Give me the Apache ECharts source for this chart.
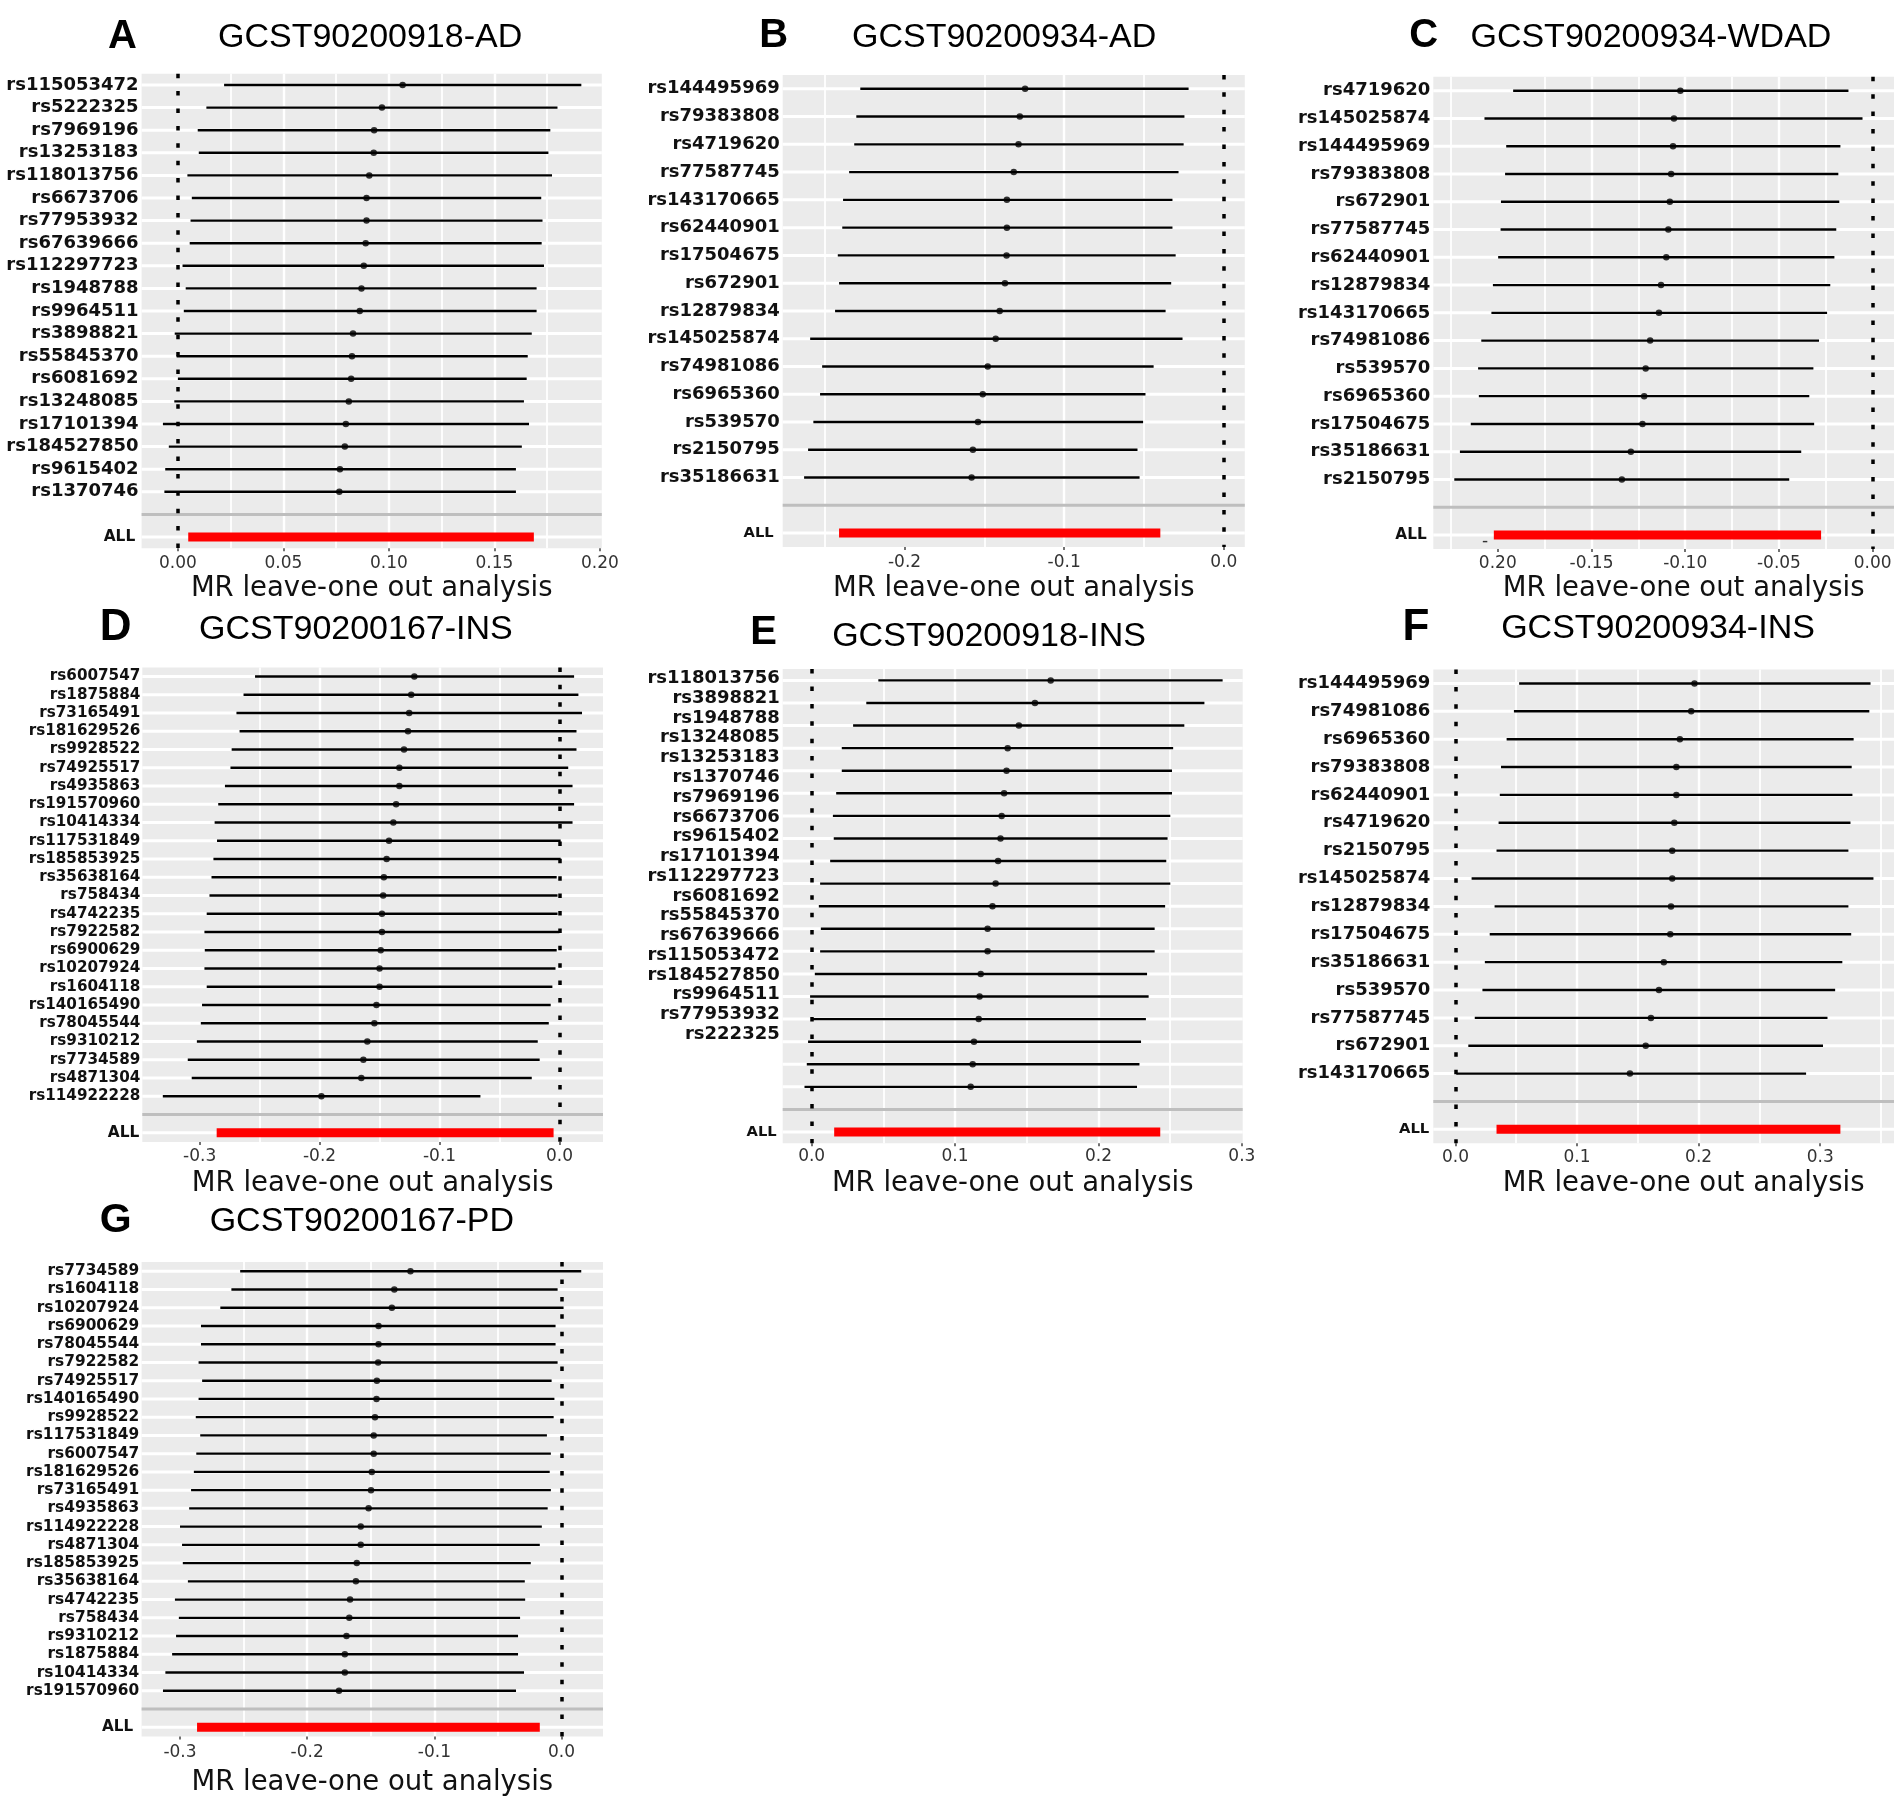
<!DOCTYPE html>
<html>
<head>
<meta charset="utf-8">
<title>MR leave-one out analysis</title>
<script src="https://cdn.jsdelivr.net/npm/echarts@6/dist/echarts.min.js"></script>
<style>
html, body { margin: 0; padding: 0; background: #fff; }
#chart { width: 1902px; height: 1805px; }
</style>
</head>
<body>
<div id="chart"></div>
<script>
// A  GCST90200918-AD
var snpsA = ["rs115053472","rs5222325","rs7969196","rs13253183","rs118013756","rs6673706","rs77953932","rs67639666","rs112297723","rs1948788","rs9964511","rs3898821","rs55845370","rs6081692","rs13248085","rs17101394","rs184527850","rs9615402","rs1370746"];
var estA = [0.1065,0.0967,0.0930,0.0928,0.0907,0.0894,0.0894,0.0890,0.0881,0.0870,0.0862,0.0830,0.0825,0.0821,0.0810,0.0796,0.0791,0.0768,0.0765];
var loA  = [0.0219,0.0135,0.0094,0.0099,0.0045,0.0066,0.0060,0.0056,0.0022,0.0037,0.0028,-0.0015,-0.0006,0.0000,-0.0017,-0.0071,-0.0043,-0.0060,-0.0064];
var hiA  = [0.1912,0.1799,0.1765,0.1756,0.1773,0.1722,0.1728,0.1724,0.1735,0.1700,0.1700,0.1677,0.1658,0.1653,0.1640,0.1664,0.1630,0.1602,0.1602];
var allA = [0.0049,0.0868,0.1687]; // lo, est, hi
var ticksA = [0,0.05,0.1,0.15,0.2];
var tickTextA = ["0.00","0.05","0.10","0.15","0.20"];

// B  GCST90200934-AD
var snpsB = ["rs144495969","rs79383808","rs4719620","rs77587745","rs143170665","rs62440901","rs17504675","rs672901","rs12879834","rs145025874","rs74981086","rs6965360","rs539570","rs2150795","rs35186631"];
var estB = [-0.1245,-0.1278,-0.1286,-0.1316,-0.1359,-0.1359,-0.1361,-0.1371,-0.1404,-0.1429,-0.1479,-0.1510,-0.1540,-0.1572,-0.1580];
var loB  = [-0.2277,-0.2302,-0.2315,-0.2347,-0.2385,-0.2390,-0.2418,-0.2410,-0.2435,-0.2591,-0.2516,-0.2529,-0.2571,-0.2604,-0.2629];
var hiB  = [-0.0221,-0.0247,-0.0252,-0.0284,-0.0322,-0.0322,-0.0302,-0.0330,-0.0365,-0.0259,-0.0440,-0.0491,-0.0506,-0.0541,-0.0528];
var allB = [-0.2410,-0.1404,-0.0398];
var ticksB = [-0.2,-0.1,0];
var tickTextB = ["-0.2","-0.1","0.0"];

// C  GCST90200934-WDAD
var snpsC = ["rs4719620","rs145025874","rs144495969","rs79383808","rs672901","rs77587745","rs62440901","rs12879834","rs143170665","rs74981086","rs539570","rs6965360","rs17504675","rs35186631","rs2150795"];
var estC = [-0.1026,-0.1060,-0.1065,-0.1075,-0.1082,-0.1090,-0.1101,-0.1129,-0.1140,-0.1187,-0.1211,-0.1219,-0.1228,-0.1290,-0.1338];
var loC  = [-0.1918,-0.2071,-0.1955,-0.1961,-0.1983,-0.1985,-0.1998,-0.2026,-0.2034,-0.2088,-0.2105,-0.2101,-0.2144,-0.2202,-0.2232];
var hiC  = [-0.0129,-0.0054,-0.0172,-0.0183,-0.0178,-0.0194,-0.0204,-0.0226,-0.0243,-0.0286,-0.0316,-0.0338,-0.0312,-0.0381,-0.0445];
var allC = [-0.2021,-0.1148,-0.0275];
var ticksC = [-0.2,-0.15,-0.1,-0.05,0];
var tickTextC = ["0.20","-0.15","-0.10","-0.05","0.00"];

// D  GCST90200167-INS
var snpsD = ["rs6007547","rs1875884","rs73165491","rs181629526","rs9928522","rs74925517","rs4935863","rs191570960","rs10414334","rs117531849","rs185853925","rs35638164","rs758434","rs4742235","rs7922582","rs6900629","rs10207924","rs1604118","rs140165490","rs78045544","rs9310212","rs7734589","rs4871304","rs114922228"];
var estD = [-0.1210,-0.1236,-0.1253,-0.1263,-0.1296,-0.1335,-0.1335,-0.1362,-0.1385,-0.1421,-0.1441,-0.1464,-0.1470,-0.1480,-0.1480,-0.1490,-0.1500,-0.1500,-0.1526,-0.1543,-0.1602,-0.1635,-0.1652,-0.1985];
var loD  = [-0.2538,-0.2634,-0.2693,-0.2667,-0.2733,-0.2743,-0.2789,-0.2845,-0.2875,-0.2855,-0.2885,-0.2901,-0.2918,-0.2941,-0.2960,-0.2957,-0.2960,-0.2941,-0.2980,-0.2990,-0.3023,-0.3099,-0.3066,-0.3307];
var hiD  = [0.0122,0.0158,0.0188,0.0142,0.0142,0.0073,0.0109,0.0122,0.0109,0.0010,0.0010,-0.0023,-0.0016,-0.0016,0.0000,-0.0023,-0.0033,-0.0059,-0.0073,-0.0089,-0.0181,-0.0165,-0.0231,-0.0659];
var allD = [-0.2858,-0.1454,-0.0049];
var ticksD = [-0.3,-0.2,-0.1,0];
var tickTextD = ["-0.3","-0.2","-0.1","0.0"];

// E  GCST90200918-INS
var snpsE = ["rs118013756","rs3898821","rs1948788","rs13248085","rs13253183","rs1370746","rs7969196","rs6673706","rs9615402","rs17101394","rs112297723","rs6081692","rs55845370","rs67639666","rs115053472","rs184527850","rs9964511","rs77953932","rs222325"];
var estE = [0.1667,0.1557,0.1445,0.1367,0.1359,0.1342,0.1325,0.1317,0.1300,0.1283,0.1261,0.1227,0.1227,0.1179,0.1171,0.1165,0.1132,0.1123,0.1109];
var loE  = [0.0465,0.0381,0.0289,0.0210,0.0210,0.0171,0.0148,0.0154,0.0129,0.0059,0.0050,0.0064,0.0059,0.0022,-0.0011,0.0000,-0.0025,-0.0034,-0.0050];
var hiE  = [0.2866,0.2739,0.2599,0.2521,0.2513,0.2513,0.2501,0.2482,0.2473,0.2501,0.2465,0.2392,0.2392,0.2339,0.2350,0.2331,0.2297,0.2286,0.2269];
var allE = [0.0157,0.1294,0.2431];
var ticksE = [0,0.1,0.2,0.3];
var tickTextE = ["0.0","0.1","0.2","0.3"];

// F  GCST90200934-INS
var snpsF = ["rs144495969","rs74981086","rs6965360","rs79383808","rs62440901","rs4719620","rs2150795","rs145025874","rs12879834","rs17504675","rs35186631","rs539570","rs77587745","rs672901","rs143170665"];
var estF = [0.1966,0.1939,0.1846,0.1817,0.1817,0.1800,0.1783,0.1783,0.1773,0.1767,0.1714,0.1674,0.1608,0.1565,0.1435];
var loF  = [0.0524,0.0481,0.0421,0.0375,0.0365,0.0355,0.0338,0.0133,0.0322,0.0282,0.0242,0.0222,0.0159,0.0106,0.0007];
var hiF  = [0.3414,0.3404,0.3275,0.3259,0.3265,0.3249,0.3232,0.3438,0.3232,0.3255,0.3182,0.3123,0.3060,0.3023,0.2884];
var allF = [0.0338,0.1752,0.3166];
var ticksF = [0,0.1,0.2,0.3];
var tickTextF = ["0.0","0.1","0.2","0.3"];

// G  GCST90200167-PD
var snpsG = ["rs7734589","rs1604118","rs10207924","rs6900629","rs78045544","rs7922582","rs74925517","rs140165490","rs9928522","rs117531849","rs6007547","rs181629526","rs73165491","rs4935863","rs114922228","rs4871304","rs185853925","rs35638164","rs4742235","rs758434","rs9310212","rs1875884","rs10414334","rs191570960"];
var estG = [-0.1188,-0.1315,-0.1334,-0.1439,-0.1439,-0.1442,-0.1452,-0.1455,-0.1467,-0.1477,-0.1477,-0.1492,-0.1498,-0.1517,-0.1579,-0.1579,-0.1610,-0.1617,-0.1663,-0.1669,-0.1691,-0.1704,-0.1704,-0.1750];
var loG  = [-0.2527,-0.2596,-0.2683,-0.2835,-0.2835,-0.2854,-0.2826,-0.2854,-0.2876,-0.2841,-0.2872,-0.2891,-0.2913,-0.2928,-0.3000,-0.2984,-0.2978,-0.2938,-0.3040,-0.3009,-0.3031,-0.3062,-0.3115,-0.3134];
var hiG  = [0.0155,-0.0031,0.0016,-0.0047,-0.0047,-0.0031,-0.0078,-0.0056,-0.0062,-0.0115,-0.0084,-0.0093,-0.0084,-0.0109,-0.0155,-0.0171,-0.0242,-0.0289,-0.0286,-0.0326,-0.0342,-0.0342,-0.0295,-0.0358];
var allG = [-0.2866,-0.1519,-0.0171];
var ticksG = [-0.3,-0.2,-0.1,0];
var tickTextG = ["-0.3","-0.2","-0.1","0.0"];

var panels = [
  {key:"A", title:"GCST90200918-AD",   snps:snpsA, est:estA, lo:loA, hi:hiA, all:allA, ticks:ticksA, tickText:tickTextA},
  {key:"B", title:"GCST90200934-AD",   snps:snpsB, est:estB, lo:loB, hi:hiB, all:allB, ticks:ticksB, tickText:tickTextB},
  {key:"C", title:"GCST90200934-WDAD", snps:snpsC, est:estC, lo:loC, hi:hiC, all:allC, ticks:ticksC, tickText:tickTextC},
  {key:"D", title:"GCST90200167-INS",  snps:snpsD, est:estD, lo:loD, hi:hiD, all:allD, ticks:ticksD, tickText:tickTextD},
  {key:"E", title:"GCST90200918-INS",  snps:snpsE, est:estE, lo:loE, hi:hiE, all:allE, ticks:ticksE, tickText:tickTextE},
  {key:"F", title:"GCST90200934-INS",  snps:snpsF, est:estF, lo:loF, hi:hiF, all:allF, ticks:ticksF, tickText:tickTextF},
  {key:"G", title:"GCST90200167-PD",   snps:snpsG, est:estG, lo:loG, hi:hiG, all:allG, ticks:ticksG, tickText:tickTextG}
];

// panel placement on the page (px)
var layout = [
  {left:141.6, top:73.7,   width:460.2, height:474.6, min:-0.0172, max:0.2009, brk:0.05, lab:18,   allSize:15.4, allPad:3.4, yMargin:3,   tickMargin:6.5, nameGap:26.5, shift:0,  letter:[122.5,37.4,40], head:[370.1,37.4]},
  {left:782.7, top:74.9,   width:462.1, height:472.1, min:-0.2763, max:0.0131, brk:0.1,  lab:18,   allSize:14.7, allPad:6,   yMargin:3,   tickMargin:7,   nameGap:27.8, shift:0,  letter:[773.7,36.4,40], head:[1004.1,37.4]},
  {left:1433.3,top:76.8,   width:460.7, height:472.1, min:-0.2344, max:0.0114, brk:0.05, lab:18,   allSize:15.3, allPad:3.6, yMargin:3,   tickMargin:6.5, nameGap:25.9, shift:20, letter:[1423.8,36.4,40], head:[1650.9,37.4]},
  {left:142.3, top:667.4,  width:460.7, height:474.5, min:-0.3478, max:0.0363, brk:0.1,  lab:15.2, allSize:15.4, allPad:1,   yMargin:2,   tickMargin:6,   nameGap:27.7, shift:0,  letter:[115.7,627.8,44], head:[355.9,629.7]},
  {left:782.7, top:669.1,  width:460,   height:474.2, min:-0.0202, max:0.3006, brk:0.1,  lab:18,   allSize:14.7, allPad:3,   yMargin:3,   tickMargin:5,   nameGap:26.3, shift:0,  letter:[763.6,633.4,40], head:[989,636.8]},
  {left:1433.3,top:669.5,  width:460.7, height:473.8, min:-0.0182, max:0.3607, brk:0.1,  lab:18,   allSize:14.8, allPad:1,   yMargin:3,   tickMargin:6,   nameGap:27,   shift:20, letter:[1416,627.8,44], head:[1658,628.7]},
  {left:141.6, top:1262.1, width:461.4, height:474.3, min:-0.3302, max:0.0326, brk:0.1,  lab:15.4, allSize:15.2, allPad:6,   yMargin:2.4, tickMargin:8,   nameGap:32.8, shift:0,  letter:[115.7,1220.4,41], head:[361.8,1221.4]}
];

var labelFont = "DejaVu Sans";
var headFont = '"Liberation Sans", Arial, sans-serif';

function tickFormatter(ticks, text) {
  return function (v) {
    for (var k = 0; k < ticks.length; k++) {
      if (Math.abs(ticks[k] - v) < 1e-9) return text[k];
    }
    return "";
  };
}

// one row: white grid line, then error bar (black) or pooled bar (red); kind 1 is the grey separator
function renderRow(params, api) {
  var cs = params.coordSys;
  var row = api.value(0);
  var kind = api.value(4);
  var y = api.coord([0, row])[1];
  var kids = [];
  if (kind === 1) {
    kids.push({type:"line", shape:{x1:cs.x, y1:y, x2:cs.x + cs.width, y2:y}, style:{stroke:"#BEBEBE", lineWidth:3}});
  } else {
    kids.push({type:"line", shape:{x1:cs.x, y1:y, x2:cs.x + cs.width, y2:y}, style:{stroke:"#FFFFFF", lineWidth:3}});
    var a = api.coord([api.value(1), row]);
    var b = api.coord([api.value(2), row]);
    kids.push({type:"line", shape:{x1:a[0], y1:y, x2:b[0], y2:y},
      style:{stroke: kind === 2 ? "#FF0000" : "#000000", lineWidth: kind === 2 ? 9 : 2.4, lineCap:"butt"}});
  }
  return {type:"group", children:kids};
}

var grids = [], xAxes = [], yAxes = [], series = [], graphics = [];

panels.forEach(function (p, i) {
  var L = layout[i];
  var cats = p.snps.concat(["", "ALL"]);
  var onlyAll = (p.key === "E"); // E: snp labels sit on their own squeezed axis

  grids.push({left:L.left, top:L.top, width:L.width, height:L.height, show:true,
    backgroundColor:"#EBEBEB", borderWidth:0, containLabel:false, outerBoundsMode:"none"});

  xAxes.push({
    type:"value", gridIndex:i, min:L.min, max:L.max, minInterval:L.brk, maxInterval:L.brk,
    axisLine:{show:false},
    axisTick:{show:true, customValues:p.ticks, length:3, lineStyle:{color:"#444", width:1.5}},
    axisLabel:{customValues:p.ticks, margin:L.tickMargin, color:"#333", fontFamily:labelFont, fontSize:17,
      formatter:tickFormatter(p.ticks, p.tickText)},
    splitLine:{show:true, showMinLine:false, showMaxLine:false, lineStyle:{color:"#FFFFFF", width:2.4}},
    minorTick:{show:false, splitNumber:2},
    minorSplitLine:{show:true, lineStyle:{color:"#FFFFFF", width:1.8}},
    name:"MR leave-one out analysis", nameLocation:"middle", nameGap:L.nameGap,
    nameTextStyle:{fontFamily:labelFont, fontSize:27.5, color:"#111", padding:[0, 0, 0, L.shift * 2]}
  });

  yAxes.push({
    type:"category", gridIndex:i, data:cats, inverse:true,
    axisLine:{show:false}, axisTick:{show:false}, splitLine:{show:false},
    axisLabel:{interval:0, margin:L.yMargin, color:"#111", fontFamily:labelFont, fontWeight:"bold", fontSize:L.lab,
      formatter:function (v) { return v === "ALL" ? "{all|ALL}" : (onlyAll ? "" : v); },
      rich:{all:{fontFamily:labelFont, fontWeight:"bold", fontSize:L.allSize, color:"#111", padding:[0, L.allPad, 0, 0]}}}
  });

  var rows = p.snps.map(function (s, k) { return [k, p.lo[k], p.hi[k], p.est[k], 0]; });
  rows.push([p.snps.length, 0, 0, 0, 1]);
  rows.push([p.snps.length + 1, p.all[0], p.all[2], p.all[1], 2]);

  series.push({type:"custom", xAxisIndex:i, yAxisIndex:i, data:rows, renderItem:renderRow,
    encode:{x:[1, 2], y:0}, z:2, silent:true});

  series.push({type:"scatter", xAxisIndex:i, yAxisIndex:i, z:3, silent:true,
    data:p.est.map(function (v, k) { return [v, k]; }),
    symbol:"circle", symbolSize:6.5, itemStyle:{color:"#000"},
    markLine:{silent:true, symbol:["none", "none"], label:{show:false},
      lineStyle:{color:"#000", type:[4.5, 12.9], width:3.5, cap:"butt"},
      data:[{xAxis:0}]}});

  graphics.push({type:"text", x:L.letter[0], y:L.letter[1], silent:true,
    style:{text:p.key, fill:"#000", font:"bold " + L.letter[2] + "px " + headFont, textAlign:"center", textVerticalAlign:"middle"}});
  graphics.push({type:"text", x:L.head[0], y:L.head[1], silent:true,
    style:{text:p.title, fill:"#000", font:"34px " + headFont, textAlign:"center", textVerticalAlign:"middle"}});
});

// panel E: the snp names are packed tighter than the rows
grids.push({left:782.7, top:668.6, width:10, height:375.6, show:false, containLabel:false, outerBoundsMode:"none"});
xAxes.push({type:"value", gridIndex:7, show:false, min:0, max:1});
yAxes.push({type:"category", gridIndex:7, data:snpsE, inverse:true,
  axisLine:{show:false}, axisTick:{show:false}, splitLine:{show:false},
  axisLabel:{interval:0, margin:3, color:"#111", fontFamily:labelFont, fontWeight:"bold", fontSize:18}});

// panel C: the minus of "-0.20" slipped away from its label
graphics.push({type:"text", x:1485, y:541.5, silent:true,
  style:{text:"-", fill:"#333", font:"17px " + labelFont, textAlign:"center", textVerticalAlign:"middle"}});

var chart = echarts.init(document.getElementById("chart"));
chart.setOption({
  animation:false,
  backgroundColor:"#FFFFFF",
  grid:grids,
  xAxis:xAxes,
  yAxis:yAxes,
  series:series,
  graphic:{elements:graphics}
});
</script>
</body>
</html>
